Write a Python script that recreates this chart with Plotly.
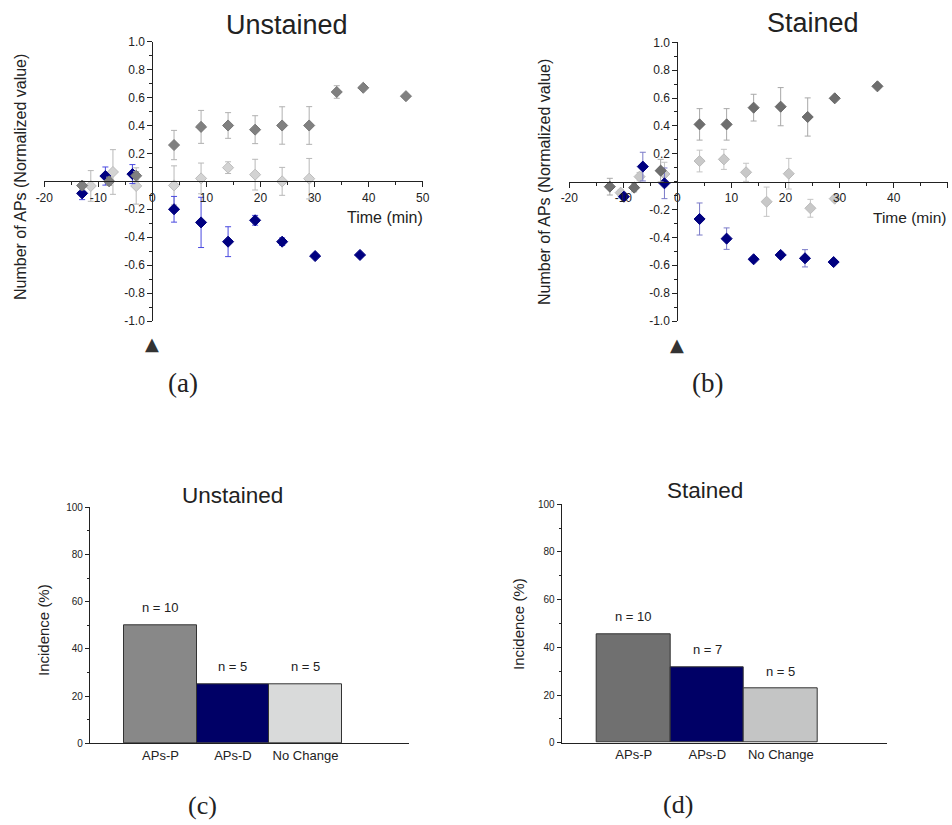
import plotly.graph_objects as go

# ---------------- data ----------------
# Panel (a) Unstained time course
a_p_time = [-13.0, -8.0, -3.0, 4.0, 9.0, 14.0, 19.0, 24.0, 29.0, 34.1, 39.0, 46.9]
a_p_val = [-0.03, 0.0, 0.04, 0.26, 0.39, 0.40, 0.37, 0.40, 0.40, 0.64, 0.67, 0.61]
a_p_err = [0.03, 0.03, 0.03, 0.105, 0.118, 0.092, 0.10, 0.134, 0.135, 0.045, 0, 0]

a_d_time = [-13.0, -8.7, -3.7, 4.0, 9.0, 14.0, 19.0, 24.0, 30.1, 38.4]
a_d_val = [-0.086, 0.038, 0.052, -0.20, -0.294, -0.432, -0.279, -0.432, -0.535, -0.527]
a_d_err = [0.045, 0.065, 0.068, 0.092, 0.18, 0.107, 0.035, 0.027, 0, 0]

a_n_time = [-11.4, -7.3, -3.0, 4.0, 9.0, 14.0, 19.0, 24.0, 29.0]
a_n_val = [-0.033, 0.067, -0.033, -0.029, 0.021, 0.098, 0.048, 0.0, 0.019]
a_n_err = [0.11, 0.16, 0.13, 0.14, 0.11, 0.042, 0.11, 0.10, 0.145]

# Panel (b) Stained time course
b_p_time = [-12.5, -8.0, -3.1, 4.1, 9.1, 14.1, 19.1, 24.1, 29.1, 37.0]
b_p_val = [-0.036, -0.043, 0.079, 0.411, 0.411, 0.531, 0.538, 0.464, 0.598, 0.684]
b_p_err = [0.06, 0.03, 0.081, 0.113, 0.113, 0.096, 0.137, 0.137, 0, 0]

b_n_time = [-10.5, -7.0, -2.4, 4.1, 8.6, 12.7, 16.5, 20.6, 24.6, 29.1]
b_n_val = [-0.079, 0.036, 0.055, 0.148, 0.16, 0.067, -0.144, 0.057, -0.191, -0.122]
b_n_err = [0.02, 0.03, 0.084, 0.078, 0.072, 0.065, 0.105, 0.11, 0.064, 0.02]

b_d_time = [-9.9, -6.4, -2.4, 4.1, 9.1, 14.1, 19.1, 23.6, 28.9]
b_d_val = [-0.108, 0.108, -0.012, -0.268, -0.409, -0.557, -0.526, -0.55, -0.577]
b_d_err = [0.02, 0.103, 0.11, 0.115, 0.077, 0, 0.02, 0.062, 0]

application_time = 0

x_tick_vals = [-20, -10, 0, 10, 20, 30, 40, 50]
x_tick_text = ["-20", "-10", "0", "10", "20", "30", "40", "50"]
y_tick_vals = [-1.0, -0.8, -0.6, -0.4, -0.2, 0.2, 0.4, 0.6, 0.8, 1.0]
y_tick_text = ["-1.0", "-0.8", "-0.6", "-0.4", "-0.2", "0.2", "0.4", "0.6", "0.8", "1.0"]

# Panels (c), (d) incidence bars
categories = ["APs-P", "APs-D", "No Change"]
c_vals = [50, 25, 25]
c_n = ["n = 10", "n = 5", "n = 5"]
d_vals = [45.45, 31.82, 22.73]
d_n = ["n = 10", "n = 7", "n = 5"]

# ---------------- styling ----------------
FONT = "Arial, Liberation Sans, sans-serif"
SERIF = "Liberation Serif, DejaVu Serif, serif"
TXT = "#222222"
NAVY = "#000080"

fig = go.Figure()


def add_series(xa, ya, t, v, e, fill, edge, errc):
    fig.add_trace(go.Scatter(
        x=t, y=v, mode="markers", xaxis=xa, yaxis=ya, showlegend=False,
        marker=dict(symbol="diamond", size=8.5, color=fill, line=dict(color=edge, width=1)),
        error_y=dict(type="data", array=e, color=errc, thickness=1, width=3),
    ))


# panel a
add_series("x", "y", a_n_time, a_n_val, a_n_err, "#d3d3d3", "#bdbdbd", "#b8b8b8")
add_series("x", "y", a_d_time, a_d_val, a_d_err, NAVY, NAVY, "#4a4ae0")
add_series("x", "y", a_p_time, a_p_val, a_p_err, "#808080", "#777777", "#b0b0b0")
# panel b
add_series("x2", "y2", b_n_time, b_n_val, b_n_err, "#c8c8c8", "#bbbbbb", "#c4c4c4")
add_series("x2", "y2", b_d_time, b_d_val, b_d_err, NAVY, NAVY, "#7a7ac8")
add_series("x2", "y2", b_p_time, b_p_val, b_p_err, "#6e6e6e", "#666666", "#a8a8a8")

# bars
for xa, ya, vals, cols in (
    ("x3", "y3", c_vals, ["#888888", "#000066", "#d9dada"]),
    ("x4", "y4", d_vals, ["#707070", "#000066", "#c4c5c5"]),
):
    fig.add_trace(go.Bar(
        x=categories, y=vals, xaxis=xa, yaxis=ya, width=1, showlegend=False,
        marker=dict(color=cols, line=dict(color="#333333", width=1)),
    ))


def time_axes(xdom, ydom, xpos, ypos):
    xa = dict(domain=xdom, range=[-20, 50], anchor="free", position=xpos,
              showline=True, linecolor=TXT, linewidth=1.2, showgrid=False, zeroline=False,
              tickmode="array", tickvals=x_tick_vals, ticktext=x_tick_text,
              ticks="outside", ticklen=5, tickcolor=TXT, tickwidth=1,
              minor=dict(dtick=5, tick0=0, ticks="outside", ticklen=3, tickcolor=TXT),
              tickfont=dict(family=FONT, size=12, color=TXT), fixedrange=True)
    ya = dict(domain=ydom, range=[-1, 1], anchor="free", position=ypos,
              showline=True, linecolor=TXT, linewidth=1.2, showgrid=False, zeroline=False,
              tickmode="array", tickvals=y_tick_vals, ticktext=y_tick_text,
              ticks="outside", ticklen=5, tickcolor=TXT, tickwidth=1,
              minor=dict(dtick=0.1, tick0=0, ticks="outside", ticklen=3, tickcolor=TXT),
              tickfont=dict(family=FONT, size=12, color=TXT), fixedrange=True)
    return xa, ya


def bar_axes(xdom, ydom, anchor_x, anchor_y, xr):
    xa = dict(domain=xdom, range=xr, anchor=anchor_y, showline=True, linecolor=TXT,
              linewidth=1.2, showgrid=False, zeroline=False, ticks="",
              tickfont=dict(family=FONT, size=13, color=TXT), fixedrange=True)
    ya = dict(domain=ydom, range=[0, 100], anchor=anchor_x, showline=True, linecolor=TXT,
              linewidth=1.2, showgrid=False, zeroline=False, dtick=20,
              ticks="outside", ticklen=4, tickcolor=TXT,
              minor=dict(dtick=10, ticks="outside", ticklen=2, tickcolor=TXT),
              tickfont=dict(family=FONT, size=10, color=TXT), fixedrange=True)
    return xa, ya


W, H = 952, 825
xa1, ya1 = time_axes([44.3 / W, 422.7 / W], [1 - 321 / H, 1 - 41.7 / H], 1 - 181.3 / H, 152.4 / W)
xa2, ya2 = time_axes([569.3 / W, 947.7 / W], [1 - 321 / H, 1 - 42.3 / H], 1 - 181.7 / H, 677.4 / W)
xa3, ya3 = bar_axes([90 / W, 409.3 / W], [1 - 743.3 / H, 1 - 507.3 / H], "x3", "y3", [-0.972, 3.432])
xa4, ya4 = bar_axes([561.7 / W, 886.7 / W], [1 - 742.7 / H, 1 - 504.3 / H], "x4", "y4", [-0.98, 3.44])

annotations = []


def txt(x, y, text, size, family=FONT, angle=0, color=TXT):
    annotations.append(dict(x=x / W, y=1 - y / H, xref="paper", yref="paper", text=text,
                            showarrow=False, textangle=angle, xanchor="center", yanchor="middle",
                            font=dict(family=family, size=size, color=color)))


txt(287, 25, "Unstained", 27)
txt(813, 23, "Stained", 27)
txt(232, 495, "Unstained", 22.5)
txt(705, 490, "Stained", 22.5)
txt(20, 177, "Number of APs (Normalized value)", 16, angle=-90)
txt(545, 182, "Number of APs (Normalized value)", 16, angle=-90)
txt(43, 630, "Incidence (%)", 15, angle=-90)
txt(518, 624, "Incidence (%)", 15, angle=-90)
txt(385, 218, "Time (min)", 16)
txt(909, 218, "Time (min)", 15.5)
txt(183, 383, "(a)", 27, family=SERIF)
txt(707, 383, "(b)", 27, family=SERIF)
txt(202, 805, "(c)", 26, family=SERIF)
txt(678, 804, "(d)", 26, family=SERIF)

# drug application arrowheads at t = 0 (x in data units, y below the axis)
for xa, ypix in (("x", 343.0), ("x2", 344.5)):
    annotations.append(dict(x=application_time, y=1 - ypix / H, xref=xa, yref="paper", text="▲",
                            showarrow=False, xanchor="center", yanchor="middle",
                            font=dict(family="DejaVu Sans", size=18, color="#333333")))

for xa, ya, vals, labels in (("x3", "y3", c_vals, c_n), ("x4", "y4", d_vals, d_n)):
    for cat, v, lab in zip(categories, vals, labels):
        annotations.append(dict(x=cat, y=v, xref=xa, yref=ya, text=lab, showarrow=False,
                                yanchor="bottom", yshift=8,
                                font=dict(family=FONT, size=13, color=TXT)))

fig.update_layout(
    width=W, height=H, margin=dict(l=0, r=0, t=0, b=0, autoexpand=False),
    paper_bgcolor="white", plot_bgcolor="white", bargap=0,
    xaxis=xa1, yaxis=ya1, xaxis2=xa2, yaxis2=ya2,
    xaxis3=xa3, yaxis3=ya3, xaxis4=xa4, yaxis4=ya4,
    annotations=annotations, showlegend=False,
)

fig.write_html("out.html", config={"displayModeBar": False},
               post_script="document.body.style.margin='0px';")
